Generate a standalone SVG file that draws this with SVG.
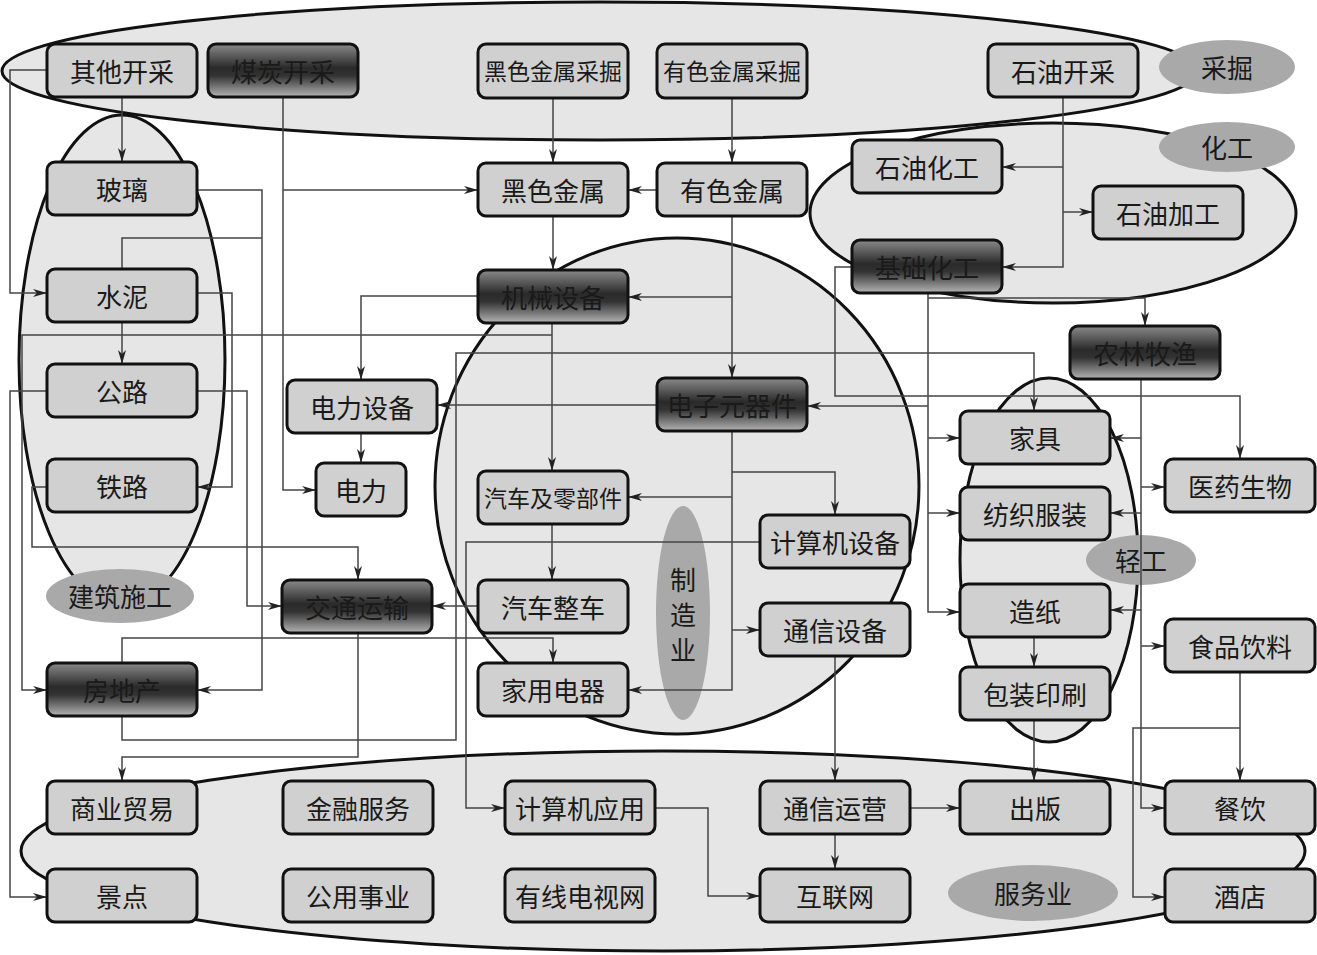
<svg xmlns="http://www.w3.org/2000/svg" width="1317" height="955" viewBox="0 0 1317 955">
<defs>
<linearGradient id="dark" x1="0" y1="0" x2="0" y2="1">
<stop offset="0" stop-color="#8a8a8a"/>
<stop offset="0.45" stop-color="#2a2a2a"/>
<stop offset="0.6" stop-color="#333"/>
<stop offset="1" stop-color="#b5b5b5"/>
</linearGradient>
<marker id="ar" viewBox="0 0 14 8" refX="14" refY="4" markerWidth="14" markerHeight="8" markerUnits="userSpaceOnUse" orient="auto">
<path d="M0,0 L14,4 L0,8 L4,4 Z" fill="#222"/>
</marker>
</defs>
<style>
.grp{fill:#e6e6e6;stroke:#111;stroke-width:3}
.lab{fill:#a9a9a9;stroke:none}
.box{fill:#d0d0d0;stroke:#111;stroke-width:3}
.dk{fill:url(#dark);stroke:#111;stroke-width:3}
.t{font-family:"Noto Sans CJK SC","Noto Sans CJK JP",sans-serif;font-size:26px;fill:#1a1a1a;text-anchor:middle;dominant-baseline:central}
.t6{font-size:23px}
.ln{fill:none;stroke:#444;stroke-width:1.5}
.a{marker-end:url(#ar)}
</style>
<rect width="1317" height="955" fill="#fff"/>
<g id="groups">
<ellipse class="grp" cx="600" cy="71" rx="598" ry="69"/>
<ellipse class="grp" cx="1053" cy="213" rx="243" ry="90"/>
<ellipse class="grp" cx="122" cy="360" rx="103" ry="245"/>
<ellipse class="grp" cx="677" cy="486" rx="242" ry="248"/>
<ellipse class="grp" cx="1049" cy="560" rx="89" ry="182"/>
<ellipse class="grp" cx="663" cy="851" rx="642" ry="100"/>
</g>
<g id="group-labels">
<g id="lab-caijue"><ellipse class="lab" cx="1227" cy="67" rx="68" ry="27"/><text class="t" x="1227" y="66">采掘</text></g>
<g id="lab-huagong"><ellipse class="lab" cx="1227" cy="147" rx="68" ry="25"/><text class="t" x="1227" y="146">化工</text></g>
<g id="lab-qinggong"><ellipse class="lab" cx="1141" cy="560" rx="55" ry="25"/><text class="t" x="1141" y="559">轻工</text></g>
<g id="lab-jianzhu"><ellipse class="lab" cx="120" cy="596" rx="74" ry="27"/><text class="t" x="120" y="595">建筑施工</text></g>
<g id="lab-zhizao"><ellipse class="lab" cx="683" cy="613" rx="27" ry="107"/><text class="t" x="683" y="578">制</text><text class="t" x="683" y="613">造</text><text class="t" x="683" y="648">业</text></g>
<g id="lab-fuwu"><ellipse class="lab" cx="1033" cy="893" rx="85" ry="28"/><text class="t" x="1033" y="892">服务业</text></g>
</g>
<g id="connectors">
<path class="ln a" d="M122,97 V162"/>
<path class="ln a" d="M47,70 H10 V293 H47"/>
<path class="ln a" d="M122,322 V364"/>
<path class="ln" d="M122,269 V238 H262"/>
<path class="ln a" d="M197,190 H262 V690 H197"/>
<path class="ln a" d="M197,293 H232 V487 H197"/>
<path class="ln a" d="M47,391 H10 V897 H47"/>
<path class="ln a" d="M197,391 H247 V606 H282"/>
<path class="ln a" d="M47,487 H32 V547 H358 V580"/>
<path class="ln a" d="M283,97 V490 H316"/>
<path class="ln a" d="M283,190 H478"/>
<path class="ln a" d="M553,98 V163"/>
<path class="ln a" d="M732,98 V163"/>
<path class="ln a" d="M657,190 H628"/>
<path class="ln a" d="M553,216 V270"/>
<path class="ln a" d="M732,216 V378"/>
<path class="ln a" d="M732,297 H628"/>
<path class="ln a" d="M478,296 H361 V380"/>
<path class="ln a" d="M361,433 V463"/>
<path class="ln a" d="M552,323 V471"/>
<path class="ln a" d="M552,335 H22 V690 H47"/>
<path class="ln a" d="M657,405 H437"/>
<path class="ln a" d="M122,716 V740 H456 V353 H1034 V411"/>
<path class="ln a" d="M358,633 V757 H122 V781"/>
<path class="ln a" d="M122,663 V638 H553 V663"/>
<path class="ln a" d="M760,542 H466 V808 H505"/>
<path class="ln a" d="M732,431 V690 H628"/>
<path class="ln a" d="M732,472 H835 V515"/>
<path class="ln a" d="M732,497 H628"/>
<path class="ln a" d="M732,630 H760"/>
<path class="ln a" d="M552,524 V580"/>
<path class="ln a" d="M478,606 H432"/>
<path class="ln a" d="M835,656 V781"/>
<path class="ln a" d="M910,808 H960"/>
<path class="ln a" d="M835,834 V869"/>
<path class="ln a" d="M655,808 H708 V896 H760"/>
<path class="ln a" d="M1063,97 V267 H1002"/>
<path class="ln a" d="M1063,167 H1002"/>
<path class="ln a" d="M1063,212 H1093"/>
<path class="ln a" d="M852,267 H835 V396 H1240 V459"/>
<path class="ln a" d="M928,293 V612 H960"/>
<path class="ln a" d="M928,298 H1145 V326"/>
<path class="ln a" d="M928,438 H960"/>
<path class="ln a" d="M928,513 H960"/>
<path class="ln a" d="M928,406 H807"/>
<path class="ln a" d="M1141,379 V808 H1165"/>
<path class="ln a" d="M1141,438 H1110"/>
<path class="ln a" d="M1141,487 H1165"/>
<path class="ln a" d="M1141,513 H1110"/>
<path class="ln a" d="M1141,610 H1110"/>
<path class="ln a" d="M1141,646 H1165"/>
<path class="ln a" d="M1240,672 V781"/>
<path class="ln a" d="M1240,728 H1133 V897 H1165"/>
<path class="ln a" d="M1034,637 V667"/>
<path class="ln a" d="M1034,720 V781"/>
</g>
<g id="n-qita"><rect class="box" x="47" y="44" width="150" height="53" rx="8"/><text class="t" x="122" y="70">其他开采</text></g>
<g id="n-meitan"><rect class="dk" x="208" y="44" width="150" height="53" rx="8"/><text class="t" x="283" y="70">煤炭开采</text></g>
<g id="n-heisecj"><rect class="box" x="478" y="44" width="150" height="54" rx="8"/><text class="t t6" x="553" y="70">黑色金属采掘</text></g>
<g id="n-yousecj"><rect class="box" x="657" y="44" width="150" height="54" rx="8"/><text class="t t6" x="732" y="70">有色金属采掘</text></g>
<g id="n-shiyoukc"><rect class="box" x="988" y="44" width="150" height="53" rx="8"/><text class="t" x="1063" y="70">石油开采</text></g>
<g id="n-shiyouhg"><rect class="box" x="852" y="140" width="150" height="53" rx="8"/><text class="t" x="927" y="166">石油化工</text></g>
<g id="n-shiyoujg"><rect class="box" x="1093" y="186" width="150" height="53" rx="8"/><text class="t" x="1168" y="212">石油加工</text></g>
<g id="n-jichuhg"><rect class="dk" x="852" y="240" width="150" height="53" rx="8"/><text class="t" x="927" y="266">基础化工</text></g>
<g id="n-boli"><rect class="box" x="47" y="162" width="150" height="53" rx="8"/><text class="t" x="122" y="188">玻璃</text></g>
<g id="n-heise"><rect class="box" x="478" y="163" width="150" height="53" rx="8"/><text class="t" x="553" y="189">黑色金属</text></g>
<g id="n-youse"><rect class="box" x="657" y="163" width="150" height="53" rx="8"/><text class="t" x="732" y="189">有色金属</text></g>
<g id="n-shuini"><rect class="box" x="47" y="269" width="150" height="53" rx="8"/><text class="t" x="122" y="295">水泥</text></g>
<g id="n-jixie"><rect class="dk" x="478" y="270" width="150" height="53" rx="8"/><text class="t" x="553" y="296">机械设备</text></g>
<g id="n-nonglin"><rect class="dk" x="1070" y="326" width="150" height="53" rx="8"/><text class="t" x="1145" y="352">农林牧渔</text></g>
<g id="n-gonglu"><rect class="box" x="47" y="364" width="150" height="53" rx="8"/><text class="t" x="122" y="390">公路</text></g>
<g id="n-dianlisb"><rect class="box" x="287" y="380" width="150" height="53" rx="8"/><text class="t" x="362" y="406">电力设备</text></g>
<g id="n-dianzi"><rect class="dk" x="657" y="378" width="150" height="53" rx="8"/><text class="t" x="732" y="404">电子元器件</text></g>
<g id="n-jiaju"><rect class="box" x="960" y="411" width="150" height="53" rx="8"/><text class="t" x="1035" y="437">家具</text></g>
<g id="n-tielu"><rect class="box" x="47" y="459" width="150" height="53" rx="8"/><text class="t" x="122" y="485">铁路</text></g>
<g id="n-dianli"><rect class="box" x="316" y="463" width="90" height="53" rx="8"/><text class="t" x="361" y="489">电力</text></g>
<g id="n-qiche"><rect class="box" x="478" y="471" width="150" height="53" rx="8"/><text class="t t6" x="553" y="497">汽车及零部件</text></g>
<g id="n-yiyao"><rect class="box" x="1165" y="459" width="150" height="53" rx="8"/><text class="t" x="1240" y="485">医药生物</text></g>
<g id="n-fangzhi"><rect class="box" x="960" y="487" width="150" height="53" rx="8"/><text class="t" x="1035" y="513">纺织服装</text></g>
<g id="n-jsjsb"><rect class="box" x="760" y="515" width="150" height="53" rx="8"/><text class="t" x="835" y="541">计算机设备</text></g>
<g id="n-jiaotong"><rect class="dk" x="282" y="580" width="150" height="53" rx="8"/><text class="t" x="357" y="606">交通运输</text></g>
<g id="n-zhengche"><rect class="box" x="478" y="580" width="150" height="53" rx="8"/><text class="t" x="553" y="606">汽车整车</text></g>
<g id="n-txsb"><rect class="box" x="760" y="603" width="150" height="53" rx="8"/><text class="t" x="835" y="629">通信设备</text></g>
<g id="n-zaozhi"><rect class="box" x="960" y="584" width="150" height="53" rx="8"/><text class="t" x="1035" y="610">造纸</text></g>
<g id="n-shipin"><rect class="box" x="1165" y="619" width="150" height="53" rx="8"/><text class="t" x="1240" y="645">食品饮料</text></g>
<g id="n-fangdc"><rect class="dk" x="47" y="663" width="150" height="53" rx="8"/><text class="t" x="122" y="689">房地产</text></g>
<g id="n-jiadian"><rect class="box" x="478" y="663" width="150" height="53" rx="8"/><text class="t" x="553" y="689">家用电器</text></g>
<g id="n-baozhuang"><rect class="box" x="960" y="667" width="150" height="53" rx="8"/><text class="t" x="1035" y="693">包装印刷</text></g>
<g id="n-shangye"><rect class="box" x="47" y="781" width="150" height="53" rx="8"/><text class="t" x="122" y="807">商业贸易</text></g>
<g id="n-jinrong"><rect class="box" x="283" y="781" width="150" height="53" rx="8"/><text class="t" x="358" y="807">金融服务</text></g>
<g id="n-jsjyy"><rect class="box" x="505" y="781" width="150" height="53" rx="8"/><text class="t" x="580" y="807">计算机应用</text></g>
<g id="n-txyy"><rect class="box" x="760" y="781" width="150" height="53" rx="8"/><text class="t" x="835" y="807">通信运营</text></g>
<g id="n-chuban"><rect class="box" x="960" y="781" width="150" height="53" rx="8"/><text class="t" x="1035" y="807">出版</text></g>
<g id="n-canyin"><rect class="box" x="1165" y="781" width="150" height="53" rx="8"/><text class="t" x="1240" y="807">餐饮</text></g>
<g id="n-jingdian"><rect class="box" x="47" y="869" width="150" height="53" rx="8"/><text class="t" x="122" y="895">景点</text></g>
<g id="n-gongyong"><rect class="box" x="283" y="869" width="150" height="53" rx="8"/><text class="t" x="358" y="895">公用事业</text></g>
<g id="n-youxian"><rect class="box" x="505" y="869" width="150" height="53" rx="8"/><text class="t" x="580" y="895">有线电视网</text></g>
<g id="n-hulian"><rect class="box" x="760" y="869" width="150" height="53" rx="8"/><text class="t" x="835" y="895">互联网</text></g>
<g id="n-jiudian"><rect class="box" x="1165" y="869" width="150" height="53" rx="8"/><text class="t" x="1240" y="895">酒店</text></g>
</svg>
